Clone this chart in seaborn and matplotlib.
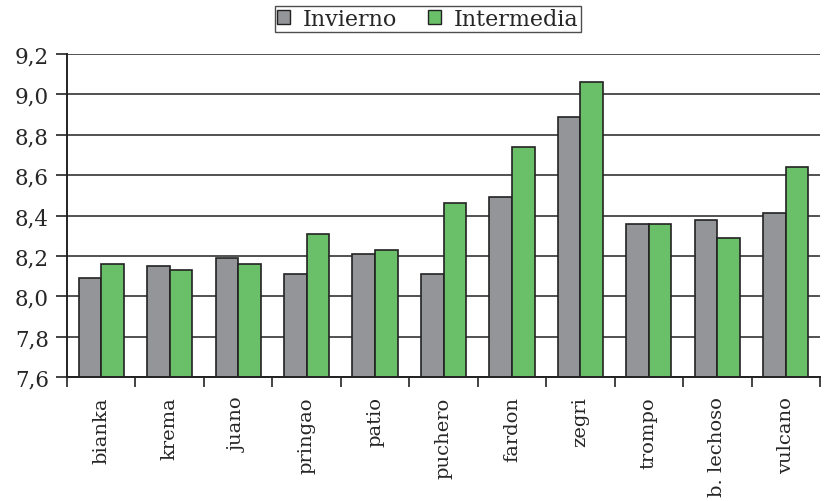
import matplotlib
matplotlib.use("Agg")
import matplotlib.pyplot as plt
import seaborn as sns
import pandas as pd
from matplotlib.ticker import FuncFormatter, FixedLocator
from matplotlib.patches import Patch

categories = ["bianka", "krema", "juano", "pringao", "patio", "puchero",
              "fardon", "zegri", "trompo", "b. lechoso", "vulcano"]
invierno = [8.09, 8.15, 8.19, 8.11, 8.21, 8.11, 8.49, 8.89, 8.36, 8.38, 8.41]
intermedia = [8.16, 8.13, 8.16, 8.31, 8.23, 8.46, 8.74, 9.06, 8.36, 8.29, 8.64]
series_names = ["Invierno", "Intermedia"]
colors = ["#939598", "#6abf69"]

df = pd.DataFrame({
    "cat": categories * 2,
    "val": invierno + intermedia,
    "serie": [series_names[0]] * len(categories) + [series_names[1]] * len(categories),
})

sns.set_style("white")
plt.rcParams["font.family"] = ["DejaVu Serif"]

fig = plt.figure(figsize=(8.25, 5.02), dpi=100)
ax = fig.add_axes([67 / 825, 1 - 378 / 502, 753 / 825, 323 / 502])

ax.set_ylim(7.6, 9.2)
ax.set_yticks([7.6 + 0.2 * i for i in range(9)])
ax.yaxis.grid(True, color="#333333", linewidth=1.2)
ax.set_axisbelow(True)

sns.barplot(data=df, x="cat", y="val", hue="serie", palette=colors, saturation=1,
            width=0.66, gap=0, edgecolor="#222222", linewidth=1.2,
            ax=ax, legend=False)

ax.set_xlim(-0.5, len(categories) - 0.5)
ax.set_ylim(7.6, 9.2)
ax.set_xlabel("")
ax.set_ylabel("")

ax.yaxis.set_major_formatter(FuncFormatter(lambda v, _: f"{v:.1f}".replace(".", ",")))
ax.tick_params(axis="y", labelsize=15.5, length=8, width=1.2, color="#222222", pad=5, left=True)
ax.set_xticks(range(len(categories)))
ax.set_xticklabels(categories, rotation=90, fontsize=14)
ax.tick_params(axis="x", length=0, pad=14)
ax.xaxis.set_minor_locator(FixedLocator([i - 0.5 for i in range(len(categories) + 1)]))
ax.tick_params(axis="x", which="minor", length=7, width=1.2, color="#222222", bottom=True)

for s in ["top", "right"]:
    ax.spines[s].set_visible(False)
for s in ["left", "bottom"]:
    ax.spines[s].set_color("#222222")
    ax.spines[s].set_linewidth(1.4)

handles = [Patch(facecolor=c, edgecolor="#222222", linewidth=1.0) for c in colors]
leg = fig.legend(handles, series_names, loc="center", bbox_to_anchor=(428 / 825, 1 - 20 / 502),
                 ncol=2, fontsize=16, frameon=True, fancybox=False, handlelength=0.55,
                 handleheight=0.55, handletextpad=0.6, columnspacing=1.4, borderpad=0.1,
                 borderaxespad=0)
leg.get_frame().set_edgecolor("#222222")
leg.get_frame().set_linewidth(1.0)

fig.savefig("out.png", dpi=100)
